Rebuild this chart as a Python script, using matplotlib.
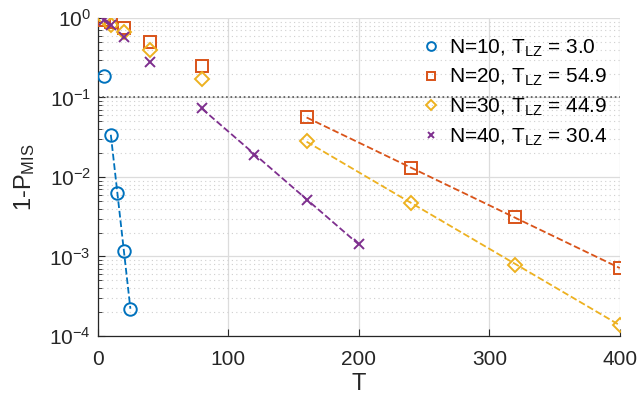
import numpy as np
import matplotlib
matplotlib.use("Agg")
import matplotlib.pyplot as plt
from matplotlib.ticker import LogLocator, NullFormatter

plt.rcParams['font.family'] = ['Liberation Sans', 'DejaVu Sans']
plt.rcParams['mathtext.fontset'] = 'custom'
plt.rcParams['mathtext.rm'] = 'Liberation Sans'
plt.rcParams['mathtext.it'] = 'Liberation Sans'

# Data
T10 = [5, 10, 15, 20, 25]
P10 = [0.186, 0.034, 0.0063, 0.00118, 0.00022]
T20 = [5, 10, 20, 40, 80, 160, 240, 320, 400]
P20 = [0.94, 0.89, 0.75, 0.50, 0.25, 0.056, 0.013, 0.0031, 0.00071]
T30 = [5, 10, 20, 40, 80, 160, 240, 320, 400]
P30 = [1.0, 0.82, 0.67, 0.39, 0.17, 0.028, 0.0047, 0.00079, 0.000138]
T40 = [5, 10, 20, 40, 80, 120, 160, 200]
P40 = [0.94, 0.82, 0.58, 0.28, 0.073, 0.019, 0.0052, 0.00143]
labels = ["N=10, T$_{\\mathrm{LZ}}$ = 3.0", "N=20, T$_{\\mathrm{LZ}}$ = 54.9",
          "N=30, T$_{\\mathrm{LZ}}$ = 44.9", "N=40, T$_{\\mathrm{LZ}}$ = 30.4"]
fit_start = [10, 160, 160, 80]

colors = ['#0072BD', '#D95319', '#EDB120', '#7E2F8E']
markers = ['o', 's', 'D', 'x']
msizes = [9, 8, 7.5, 7]

fig = plt.figure(figsize=(6.39, 3.99), dpi=100)
ax = fig.add_axes([0.153, 0.158, 0.817, 0.797])

series = [(T10, P10), (T20, P20), (T30, P30), (T40, P40)]
for i, (t, p) in enumerate(series):
    t = np.array(t, float); p = np.array(p, float)
    m = t >= fit_start[i]
    coef = np.polyfit(t[m], np.log10(p[m]), 1)
    ax.plot(t[m], 10 ** np.polyval(coef, t[m]), '--', color=colors[i], lw=1.3, zorder=3)
    ax.plot(t, p, linestyle='none', marker=markers[i], markersize=msizes[i],
            markerfacecolor='none', markeredgecolor=colors[i], markeredgewidth=1.4,
            color=colors[i], label=labels[i], zorder=4)

ax.axhline(0.1, color='#555555', ls=':', lw=1.2, zorder=2)

ax.set_yscale('log')
ax.set_xlim(0, 400)
ax.set_ylim(1e-4, 1)
ax.set_xticks([0, 100, 200, 300, 400])
ax.yaxis.set_major_locator(LogLocator(base=10, numticks=10))
ax.yaxis.set_minor_locator(LogLocator(base=10, subs=np.arange(2, 10), numticks=20))
ax.yaxis.set_minor_formatter(NullFormatter())

ax.grid(True, which='major', color='#dcdcdc', lw=0.9, ls='-')
ax.grid(True, which='minor', axis='y', color='#cfcfcf', lw=0.8, ls=(0, (1, 3)))
ax.set_axisbelow(True)

for s in ['top', 'right']:
    ax.spines[s].set_visible(False)
for s in ['left', 'bottom']:
    ax.spines[s].set_color('#262626')
    ax.spines[s].set_linewidth(0.9)

ax.tick_params(which='both', direction='in', labelsize=15, colors='#262626')
ax.tick_params(which='major', length=5)
ax.tick_params(which='minor', length=3)
ax.tick_params(axis='x', pad=10)
ax.tick_params(axis='y', pad=5)

ax.set_xlabel('T', fontsize=17, color='#262626', labelpad=3)
ax.set_ylabel('1-P$_{\\mathrm{MIS}}$', fontsize=17, color='#262626', labelpad=9)

leg = ax.legend(loc='upper right', bbox_to_anchor=(1.005, 0.985), frameon=False,
                fontsize=15, handlelength=0.8, handletextpad=0.5,
                labelspacing=0.4, markerscale=0.7, borderaxespad=0.3)

fig.savefig('out.png', dpi=100)
